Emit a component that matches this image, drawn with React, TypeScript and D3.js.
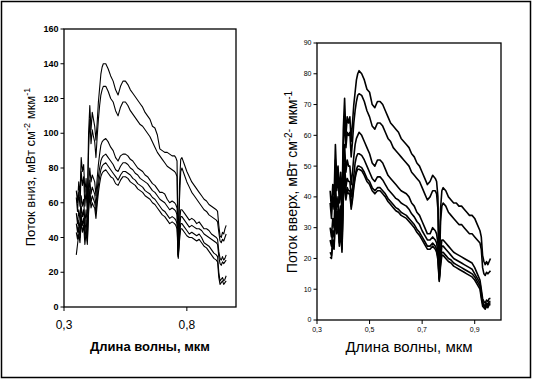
import React from 'react';
import * as d3 from 'd3';

const wavelengths = [
  0.350, 0.355, 0.360, 0.365, 0.370, 0.375, 0.380, 0.385, 0.390, 0.395, 0.400, 0.405,
  0.410, 0.415, 0.420, 0.425, 0.430, 0.435, 0.440, 0.445, 0.450, 0.455, 0.460,
  0.47, 0.48, 0.49, 0.50, 0.51, 0.52, 0.53, 0.54, 0.55, 0.56, 0.57, 0.58, 0.59, 0.60,
  0.61, 0.62, 0.63, 0.64, 0.65, 0.66, 0.67, 0.68, 0.69, 0.70, 0.71, 0.72, 0.73, 0.74, 0.75,
  0.755, 0.760, 0.765, 0.770, 0.775,
  0.78, 0.79, 0.80, 0.81, 0.82, 0.83, 0.84, 0.85, 0.86, 0.87, 0.88, 0.89, 0.90, 0.91, 0.92,
  0.925, 0.930, 0.935, 0.940, 0.945, 0.950, 0.955, 0.960,
];

// Left panel: downward flux
const down1 = [
  67, 60, 72, 64, 86, 78, 82, 66, 74, 60, 100, 116, 102, 112, 108, 104, 96, 106, 118, 126, 134, 138, 140,
  140, 137, 133, 130, 125, 122, 127, 130, 130, 128, 125, 123, 121, 119, 117, 115, 112, 110, 108, 104, 103, 99, 91, 90, 89, 89, 88, 87, 87,
  86, 84, 30, 70, 85,
  86, 82, 78, 75, 72, 70, 68, 66, 64, 62, 61, 59, 58, 57, 56,
  55, 47, 41, 40, 43, 42, 45, 47,
];
const down2 = [
  63, 55, 66, 58, 78, 70, 75, 58, 68, 54, 90, 108, 94, 102, 98, 95, 86, 98, 108, 116, 122, 125, 127,
  127, 124, 120, 118, 113, 110, 115, 118, 118, 116, 113, 111, 109, 107, 105, 104, 102, 100, 98, 95, 92, 89, 87, 85, 83, 81, 80, 79, 78,
  77, 75, 30, 62, 78,
  80, 76, 72, 69, 66, 64, 62, 60, 58, 56, 55, 53, 52, 51, 50,
  49, 43, 38, 37, 39, 38, 40, 42,
];
const down3 = [
  54, 48, 56, 50, 64, 58, 62, 48, 56, 46, 70, 80, 72, 76, 74, 72, 64, 74, 82, 88, 93, 95, 96,
  97, 95, 92, 90, 86, 84, 87, 88, 88, 87, 85, 84, 82, 80, 79, 78, 76, 75, 73, 71, 70, 68, 66, 66, 65, 62, 60, 61, 60,
  59, 57, 30, 48, 56,
  56, 54, 52, 50, 51, 50, 48, 49, 47, 45, 45, 44, 42, 41, 40,
  39, 32, 28, 27, 29, 27, 28, 30,
];
const down4 = [
  48, 43, 50, 44, 58, 52, 56, 43, 50, 41, 63, 73, 65, 69, 67, 65, 58, 67, 75, 80, 84, 86, 87,
  88, 86, 84, 82, 79, 78, 81, 83, 83, 82, 80, 79, 77, 76, 74, 73, 72, 71, 69, 67, 66, 64, 62, 61, 60, 58, 56, 57, 56,
  55, 53, 29, 45, 52,
  52, 50, 48, 46, 47, 46, 45, 45, 44, 42, 41, 40, 39, 38, 37,
  36, 29, 25, 24, 26, 25, 26, 27,
];
const down5 = [
  43, 39, 46, 40, 53, 47, 51, 39, 46, 38, 58, 68, 60, 64, 62, 60, 54, 62, 70, 75, 79, 81, 82,
  83, 81, 79, 77, 75, 73, 76, 78, 78, 77, 76, 74, 73, 71, 70, 69, 67, 66, 65, 63, 62, 60, 58, 56, 55, 53, 51, 52, 51,
  50, 48, 29, 41, 48,
  48, 46, 44, 42, 43, 42, 41, 42, 40, 37, 36, 35, 33, 31, 30,
  29, 20, 15, 16, 17, 15, 16, 18,
];
const down6 = [
  30, 36, 42, 37, 49, 43, 47, 36, 43, 36, 54, 64, 57, 60, 58, 57, 51, 59, 66, 71, 75, 77, 78,
  79, 77, 75, 74, 71, 70, 73, 75, 75, 74, 72, 71, 70, 68, 67, 66, 64, 63, 62, 60, 59, 57, 55, 53, 52, 50, 48, 49, 48,
  47, 45, 28, 38, 45,
  45, 43, 41, 40, 40, 39, 38, 39, 37, 35, 34, 32, 30, 28, 27,
  26, 17, 13, 14, 15, 13, 14, 15,
];

// Right panel: upward flux
const up1 = [
  42, 36, 44, 40, 57, 46, 50, 42, 48, 36, 62, 72, 60, 66, 64, 66, 58, 64, 70, 74, 78, 80, 81,
  80, 78, 75, 74, 70, 69, 71, 71, 70, 68, 66, 64, 63, 62, 61, 59, 58, 57, 56, 54, 53, 51, 50, 48, 46, 44, 45, 47, 46,
  45, 40, 14, 36, 42,
  43, 42, 40, 39, 38, 38, 37, 37, 36, 35, 34, 34, 33, 31, 29,
  27, 21, 19, 18, 19, 18, 19, 20,
];
const up2 = [
  38, 33, 40, 36, 52, 42, 47, 38, 44, 33, 56, 66, 56, 61, 60, 61, 53, 58, 64, 68, 71, 73, 73.5,
  73, 71, 68, 66, 63, 62, 64, 64, 63, 61, 59, 58, 56, 55, 54, 53, 52, 51, 50, 48, 47, 46, 45, 43, 41, 39, 40, 42, 42,
  41, 36, 14, 32, 37,
  38, 37, 35, 34, 33, 32, 31, 31, 30, 29, 28, 28, 27, 26, 25,
  23, 17, 15, 14.5, 15.5, 15, 15.5, 16,
];
const up3 = [
  30, 27, 33, 30, 45, 36, 40, 32, 37, 28, 48, 57, 48, 52, 50, 50, 44, 48, 53, 57, 59, 60, 61,
  60, 58, 56, 54, 51, 50, 52, 52, 51, 49, 47, 46, 45, 44, 43, 42, 41.5, 41, 40, 38, 37, 35, 34, 32, 30, 28, 28, 30, 29,
  28, 25, 14, 22, 26,
  26, 25, 24, 23, 22, 21.5, 21, 20.5, 20, 19.5, 19, 18.5, 17, 15, 13,
  10, 7, 6, 5.5, 6.5, 6, 7, 7,
];
const up4 = [
  26, 24, 29, 27, 40, 32, 36, 28, 33, 25, 43, 51, 43, 46, 45, 45, 40, 43, 47, 51, 53, 54, 54,
  53.5, 52, 50, 48, 46, 45, 46.5, 46.5, 45.5, 44, 42.5, 41.5, 40.5, 39.5, 39, 38, 37.5, 37, 36, 34.5, 33.5, 32, 31, 29, 27.5, 26, 26, 27, 26,
  25, 22, 13.5, 20, 24,
  24, 23, 22, 21, 20, 19.5, 19, 18.5, 18, 17.5, 17, 16.5, 15, 13.5, 12,
  9, 6, 5, 4.5, 5.5, 5, 6, 6,
];
const up5 = [
  22, 21, 26, 24, 36, 29, 33, 25, 30, 23, 40, 47, 40, 43, 42, 42, 37, 40, 44, 47, 49, 50, 50,
  49.5, 48, 46, 45, 43, 42, 43, 43, 42, 41, 39.5, 38.5, 37.5, 36.5, 36, 35, 34.5, 34, 33, 32, 31, 29.5, 28.5, 27, 25.5, 24, 24, 25, 24,
  23, 20.5, 13, 18.5, 22,
  22, 21, 20, 19.5, 18.5, 18, 17.5, 17, 16.5, 16, 15.5, 15, 14, 12.5, 11,
  8, 5.5, 4.5, 4, 5, 4.5, 5.5, 5.5,
];
const up6 = [
  20.5, 20, 25, 23, 34, 28, 31, 24, 29, 22, 39, 45, 39, 42, 41, 41, 36, 39, 43, 46, 48, 49, 49,
  48.5, 47, 45, 44, 42, 41, 42, 42, 41, 40, 38.5, 37.5, 36.5, 35.5, 35, 34, 33.5, 33, 32, 31, 30, 28.5, 27.5, 26, 24.5, 23, 23, 24, 23,
  22, 19.5, 12.5, 17.5, 21,
  21, 20, 19, 18.5, 17.5, 17, 16.5, 16, 15.5, 15, 14.5, 14, 13, 11.5, 10,
  7, 4.5, 4, 3.5, 4.5, 4, 5, 5,
];

const downYTicks = [0, 20, 40, 60, 80, 100, 120, 140, 160];
const downXTicks = [0.3, 0.8];
const upYTicks = [0, 10, 20, 30, 40, 50, 60, 70, 80, 90];
const upXTicks = [0.3, 0.5, 0.7, 0.9];

const FONT = "'Liberation Sans', Arial, Helvetica, sans-serif";
const fmt = (v: number) => String(v).replace('.', ',');

type PanelProps = {
  x0: number; x1: number; y0: number; y1: number;
  yMax: number;
  series: number[][];
  yTicks: number[];
  xTicks: number[];
  lineWidth: number;
  yTickFont: number; yTickWeight: string;
  xTickFont: number; xTickDy: number;
};

function Panel(p: PanelProps) {
  const x = d3.scaleLinear().domain([0.3, 1.0]).range([p.x0, p.x1]);
  const y = d3.scaleLinear().domain([0, p.yMax]).range([p.y1, p.y0]);
  const line = d3.line<number>().x((_, i) => x(wavelengths[i])).y((d) => y(d)).curve(d3.curveLinear);
  return (
    <g>
      {p.series.map((s, i) => (
        <path key={i} d={line(s) || ''} fill="none" stroke="#000" strokeWidth={p.lineWidth} strokeLinejoin="round" />
      ))}
      <rect x={p.x0} y={p.y0} width={p.x1 - p.x0} height={p.y1 - p.y0} fill="none" stroke="#000" strokeWidth={1.3} />
      {p.yTicks.map((t) => (
        <g key={'y' + t}>
          <line x1={p.x0 - 3.5} x2={p.x0} y1={y(t)} y2={y(t)} stroke="#000" strokeWidth={1} />
          <text x={p.x0 - 5.5} y={y(t)} dy="0.35em" textAnchor="end" fontSize={p.yTickFont} fontWeight={p.yTickWeight} fontFamily={FONT}>{t}</text>
        </g>
      ))}
      {p.xTicks.map((t) => (
        <g key={'x' + t}>
          <line x1={x(t)} x2={x(t)} y1={p.y1} y2={p.y1 + 4} stroke="#000" strokeWidth={1} />
          <text x={x(t)} y={p.y1 + p.xTickDy} textAnchor="middle" fontSize={p.xTickFont} fontFamily={FONT}>{fmt(t)}</text>
        </g>
      ))}
    </g>
  );
}

export default function App() {
  return (
    <svg width={533} height={380} style={{ position: 'absolute', left: 0, top: 0, background: '#fff' }}>
      <rect x={0} y={0} width={533} height={380} fill="#fff" />
      <rect x={1.5} y={1.5} width={529} height={376} fill="none" stroke="#000" strokeWidth={1.5} />
      <Panel x0={64} x1={236} y0={29} y1={307} yMax={160}
        series={[down1, down2, down3, down4, down5, down6]}
        yTicks={downYTicks} xTicks={downXTicks} lineWidth={1.1}
        yTickFont={9} yTickWeight="bold" xTickFont={12} xTickDy={22} />
      <Panel x0={317} x1={501} y0={43} y1={320} yMax={90}
        series={[up1, up2, up3, up4, up5, up6]}
        yTicks={upYTicks} xTicks={upXTicks} lineWidth={1.6}
        yTickFont={7} yTickWeight="normal" xTickFont={7} xTickDy={12} />
      <text x={150} y={351} textAnchor="middle" fontSize={13} fontWeight="bold" fontFamily={FONT}>Длина волны, мкм</text>
      <text x={409} y={352} textAnchor="middle" fontSize={15} fontFamily={FONT}>Длина волны, мкм</text>
      <text transform="translate(35,167) rotate(-90)" textAnchor="middle" fontSize={13} fontFamily={FONT}>
        Поток вниз, мВт см<tspan dy={-5} fontSize={9}>-2</tspan><tspan dy={5}> мкм</tspan><tspan dy={-5} fontSize={9}>-1</tspan>
      </text>
      <text transform="translate(297,182) rotate(-90)" textAnchor="middle" fontSize={14} fontFamily={FONT}>
        Поток вверх, мВт см<tspan dy={-5} fontSize={10}>-2-</tspan><tspan dy={5}> мкм</tspan><tspan dy={-5} fontSize={10}>-1</tspan>
      </text>
    </svg>
  );
}
